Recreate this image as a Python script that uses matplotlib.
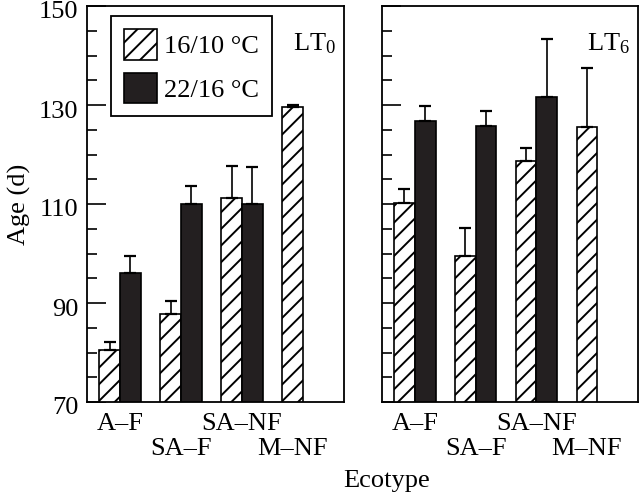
import numpy as np
import matplotlib.pyplot as plt
import matplotlib.transforms as mtransforms
from matplotlib.ticker import FixedLocator, MultipleLocator

plt.rcParams['font.family'] = ['Liberation Serif', 'DejaVu Serif']
plt.rcParams['hatch.linewidth'] = 1.4
plt.rcParams['mathtext.fontset'] = 'custom'
plt.rcParams['mathtext.rm'] = 'Liberation Serif'
plt.rcParams['mathtext.it'] = 'Liberation Serif:italic'

ecotypes = ['A\u2013F', 'SA\u2013F', 'SA\u2013NF', 'M\u2013NF']
series = ['16/10 \u00b0C', '22/16 \u00b0C']

# LT0 panel
lt0_cool = [80.6, 87.7, 111.3, 129.5]
lt0_cool_err = [1.5, 2.8, 6.4, 0.6]
lt0_warm = [96.0, 110.0, 110.0, np.nan]
lt0_warm_err = [3.4, 3.6, 7.4, 0]

# LT6 panel
lt6_cool = [110.3, 99.5, 118.7, 125.5]
lt6_cool_err = [2.7, 5.7, 2.7, 12.0]
lt6_warm = [126.8, 125.8, 131.7, np.nan]
lt6_warm_err = [3.0, 3.0, 11.6, 0]

FS = 19
width = 0.34
black = '#231f20'

fig = plt.figure(figsize=(6.4, 4.92), dpi=100)
ax1 = fig.add_axes([87/640, 1-402/492, (344-87)/640, 396/492])
ax2 = fig.add_axes([382/640, 1-402/492, (638-382)/640, 396/492])

def draw_panel(ax, cool, cool_err, warm, warm_err, tag, show_labels):
    x = np.arange(len(ecotypes))
    ekw = dict(ecolor='black', elinewidth=1.2, capsize=4, capthick=1.6)
    h1 = ax.bar(x - width/2, cool, width, color='white', edgecolor='black', hatch='//',
                linewidth=1.2, yerr=[np.zeros(len(cool)), cool_err], error_kw=ekw, zorder=2)
    ok = ~np.isnan(warm)
    wv = np.array(warm)[ok]
    we = np.array(warm_err)[ok]
    h2 = ax.bar(x[ok] + width/2, wv, width, color=black, edgecolor='black',
                linewidth=1.2, yerr=[np.zeros(len(wv)), we], error_kw=ekw, zorder=2)
    ax.set_ylim(70, 150)
    ax.set_xlim(-0.54, 3.67)
    ax.yaxis.set_major_locator(FixedLocator([70, 90, 110, 130, 150]))
    ax.yaxis.set_minor_locator(MultipleLocator(5))
    ax.tick_params(axis='y', which='major', direction='in', length=14, width=1.2,
                   labelsize=FS, labelleft=show_labels, pad=6)
    ax.tick_params(axis='y', which='minor', direction='in', length=7, width=1.2)
    # staggered ecotype labels: first row on major ticks, second row on minor ticks
    pos = [0, 1, 2, 3 - width/2]
    ax.set_xticks([pos[0], pos[2]], [ecotypes[0], ecotypes[2]])
    ax.set_xticks([pos[1], pos[3]], [ecotypes[1], ecotypes[3]], minor=True)
    ax.tick_params(axis='x', which='major', length=0, labelsize=FS, pad=8)
    ax.tick_params(axis='x', which='minor', length=0, labelsize=FS, pad=26)
    for s in ax.spines.values():
        s.set_linewidth(1.3)
    ax.text(0.97, 0.905, tag, transform=ax.transAxes, ha='right', va='center', fontsize=FS)
    return h1, h2

h1, h2 = draw_panel(ax1, lt0_cool, lt0_cool_err, lt0_warm, lt0_warm_err, r'LT$_0$', True)
draw_panel(ax2, lt6_cool, lt6_cool_err, lt6_warm, lt6_warm_err, r'LT$_6$', False)

# y labels sit a little below their ticks in the original
shift = mtransforms.ScaledTranslation(0, -4/100, fig.dpi_scale_trans)
for lab in ax1.get_yticklabels():
    lab.set_transform(lab.get_transform() + shift)

ax1.set_ylabel('Age (d)', fontsize=FS, labelpad=6)
fig.text(387/640, 1-481/492, 'Ecotype', ha='center', va='center', fontsize=FS)

leg = ax1.legend([h1, h2], series, loc='upper left', bbox_to_anchor=(0.093, 0.975),
                 borderaxespad=0, fontsize=FS, fancybox=False, edgecolor='black',
                 framealpha=1, handlelength=1.25, handleheight=1.4, handletextpad=0.25,
                 borderpad=0.5, labelspacing=0.5)
leg.get_frame().set_linewidth(1.3)

fig.savefig('out.png', dpi=100)
